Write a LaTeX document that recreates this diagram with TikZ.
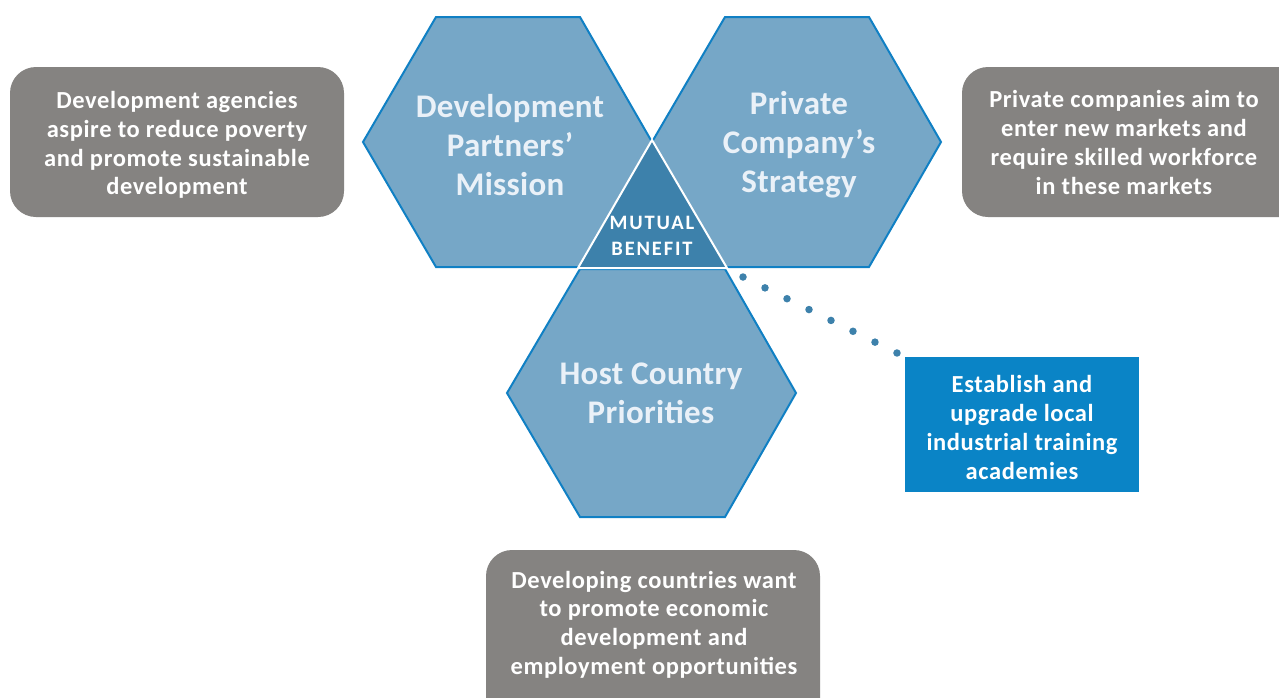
\documentclass[tikz,border=0pt]{standalone}
\usepackage{fontspec}
\setmainfont{Carlito}
\newfontfamily\spacedfont[LetterSpace=9]{Carlito}
\newfontfamily\infofont[LetterSpace=2.5]{Carlito}
\newfontfamily\hexfont[LetterSpace=1]{Carlito}
\definecolor{hexfill}{RGB}{118,167,199}
\definecolor{hexline}{RGB}{16,128,196}
\definecolor{trifill}{RGB}{61,129,171}
\definecolor{greybox}{RGB}{133,131,129}
\definecolor{bluebox}{RGB}{10,132,198}
\definecolor{hextext}{RGB}{234,241,248}
\tikzset{
  hexshape/.style={fill=hexfill, draw=hexline, line width=2pt, line join=miter},
  hexlabel/.style={text=hextext, font=\hexfont\bfseries\fontsize{33}{39}\selectfont, align=center, inner sep=0pt},
  greyinfo/.style={fill=greybox, draw=none, rounded corners=26pt},
  infotext/.style={text=white, font=\infofont\bfseries\fontsize{24.5}{28.7}\selectfont, align=center, inner sep=0pt},
  dotline/.style={draw=trifill, line width=7.5pt, line cap=round, dash pattern=on 0pt off 24.53pt},
}
\begin{document}
\begin{tikzpicture}[x=1pt, y=-1pt]
\clip (0,0) rectangle (1279,697);
\fill[white] (0,0) rectangle (1279,697);
% hexagon 3 (host country)
\draw[hexshape] (507,393) -- (580,269) -- (725,269) -- (796,393) -- (725,517) -- (580,517) -- cycle;
% hexagon 1
\draw[hexshape] (363,142) -- (436,17) -- (580,17) -- (652,142) -- (580,267) -- (436,267) -- cycle;
% hexagon 2
\draw[hexshape] (652,142) -- (725,17) -- (869,17) -- (941,142) -- (869,267) -- (725,267) -- cycle;
% mutual benefit triangle
\draw[fill=trifill, draw=white, line width=2pt, line join=miter] (652,140) -- (578,268) -- (727,268) -- cycle;
\node[hexlabel] (dp) at (510,145) {Development\\Partners’\\Mission};
\node[hexlabel] (pc) at (799,144.5) {Private\\Company’s\\Strategy};
\node[hexlabel] (hc) at (651,393) {Host Country\\Priorities};
\node[text=white, font=\bfseries\fontsize{20.5}{26}\spacedfont, align=center, inner sep=0pt] (mb) at (652,236) {MUTUAL\\BENEFIT};
% info boxes
\path[greyinfo] (10,67) rectangle (344,217);
\node[infotext] (left) at (177,145) {Development agencies\\aspire to reduce poverty\\and promote sustainable\\development};
\path[greyinfo] (962,67) rectangle (1320,217);
\node[infotext] (right) at (1124,142.5) {Private companies aim to\\enter new markets and\\require skilled workforce\\in these markets};
\path[greyinfo] (486,550) rectangle (820,740);
\node[infotext] (bottom) at (654,624.5) {Developing countries want\\to promote economic\\development and\\employment opportunities};
\fill[bluebox] (905,357) rectangle (1139,492);
\node[infotext] (est) at (1022,427.5) {Establish and\\upgrade local\\industrial training\\academies};
% dotted connector
\coordinate (dstart) at (743,277);
\coordinate (dend) at (897,353);
\draw[dotline] (dstart) -- (dend);
\end{tikzpicture}
\end{document}
